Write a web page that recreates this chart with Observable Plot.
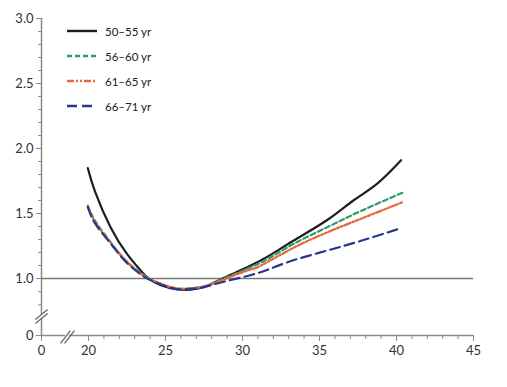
<!DOCTYPE html>
<html><head><meta charset="utf-8">
<script src="https://cdn.jsdelivr.net/npm/d3@7"></script>
<script src="https://cdn.jsdelivr.net/npm/@observablehq/plot@0.6"></script>
<style>
body{margin:0;background:#fff;}
#wrap{position:relative;width:507px;height:387px;font-family:Lato,"Open Sans",sans-serif;}
.item{position:absolute;left:66px;height:14px;display:flex;align-items:center;font-size:11.5px;color:#222;white-space:nowrap;}
.item svg{margin-right:7px;}
</style></head><body><div id="wrap"></div>
<script>
// ---- data ----
const seriesNames = ["50–55 yr", "56–60 yr", "61–65 yr", "66–71 yr"];
const seriesColors = ["#1e1e1e", "#2e9b6b", "#e8653d", "#26388c"];
const seriesDash = [null, "5,3", "7,2,2,2,2,2", "10,5"];

const bmi_5055 = [19.7, 20.45, 21.43, 22.5, 23.4, 23.9, 24.7, 25.7, 26.6, 27.5, 28.6, 30.3, 31.8, 33.3, 35.5, 37.2, 38.75, 40.3];
const rr_5055  = [1.85, 1.66, 1.395, 1.19, 1.06, 1.0, 0.95, 0.92, 0.915, 0.935, 0.995, 1.087, 1.18, 1.29, 1.45, 1.6, 1.73, 1.91];

const bmi_5660 = [19.7, 20.45, 21.43, 22.5, 23.6, 24.0, 24.7, 25.7, 26.6, 27.5, 28.6, 30.3, 31.8, 33.3, 35.5, 37.7, 40.4];
const rr_5660  = [1.56, 1.44, 1.28, 1.13, 1.025, 0.995, 0.96, 0.925, 0.925, 0.94, 0.99, 1.075, 1.16, 1.265, 1.395, 1.52, 1.66];

const bmi_6165 = [19.7, 20.45, 21.43, 22.5, 23.6, 24.0, 24.7, 25.7, 26.6, 27.5, 28.6, 30.3, 31.2, 33.3, 35.5, 37.7, 40.45];
const rr_6165  = [1.55, 1.43, 1.275, 1.125, 1.02, 0.995, 0.96, 0.925, 0.925, 0.94, 0.985, 1.06, 1.10, 1.235, 1.355, 1.46, 1.59];

const bmi_6671 = [19.7, 20.45, 21.43, 22.5, 23.6, 24.0, 24.7, 25.7, 26.6, 27.5, 28.6, 30.5, 31.8, 33.3, 35.5, 37.7, 40.1];
const rr_6671  = [1.55, 1.42, 1.27, 1.12, 1.015, 0.99, 0.955, 0.92, 0.92, 0.935, 0.97, 1.025, 1.075, 1.14, 1.215, 1.29, 1.38];

const xMajorTicks = [0, 20, 25, 30, 35, 40, 45];
const yMajorTicks = [0, 1.0, 1.5, 2.0, 2.5, 3.0];
const refValue = 1.0;

// ---- build ----
const allX = [bmi_5055, bmi_5660, bmi_6165, bmi_6671];
const allY = [rr_5055, rr_5660, rr_6165, rr_6671];
const rows = [];
seriesNames.forEach((s, i) => allX[i].forEach((x, j) => rows.push({series: s, x, y: allY[i][j]})));

const xMinor = d3.range(21, 45).filter(d => d % 5 !== 0);
const yMinor = [0.8, 0.9].concat(d3.range(11, 30).map(d => d / 10).filter(d => d !== 1.5 && d !== 2 && d !== 2.5));

// axis-break decorations (in data units of the broken scales)
const yBreakSlashes = [{x1: -2.6, x2: 2.6, y1: 0.609, y2: 0.766}, {x1: -2.6, x2: 2.6, y1: 0.46, y2: 0.735}];
const xBreakSlashes = [{x1: 8.1, x2: 12.3, y1: -0.30, y2: 0.187}, {x1: 9.8, x2: 14.0, y1: -0.30, y2: 0.187}];

const lineMarks = seriesNames.map((s, i) =>
  Plot.line(rows.filter(r => r.series === s), {
    x: "x", y: "y", curve: "natural",
    stroke: seriesColors[i], strokeWidth: 2.2,
    strokeDasharray: seriesDash[i] || undefined
  })
);

const axisStroke = "#8a8a8a";
const plot = Plot.plot({
  width: 507, height: 387,
  marginLeft: 41, marginRight: 34, marginTop: 18, marginBottom: 52,
  style: {fontFamily: "Lato, 'Open Sans', sans-serif", fontSize: "13px", color: "#333", background: "#fff"},
  x: {type: "linear", domain: [0, 20, 45], range: [41, 88, 473]},
  y: {type: "linear", domain: [0, 0.71, 1, 3], range: [335, 316.3, 278, 18]},
  marks: [
    // axis lines with breaks
    Plot.ruleX([0], {y1: 0, y2: 0.647, stroke: axisStroke, strokeWidth: 1.5}),
    Plot.ruleX([0], {y1: 0.727, y2: 3, stroke: axisStroke, strokeWidth: 1.5}),
    Plot.ruleY([0], {x1: 0, x2: 10.2, stroke: axisStroke, strokeWidth: 1.5}),
    Plot.ruleY([0], {x1: 11.9, x2: 45, stroke: axisStroke, strokeWidth: 1.5}),
    // break marks
    Plot.link(yBreakSlashes, {x1: "x1", x2: "x2", y1: "y1", y2: "y2", stroke: "#666", strokeWidth: 1.3}),
    Plot.link(xBreakSlashes, {x1: "x1", x2: "x2", y1: "y1", y2: "y2", stroke: "#666", strokeWidth: 1.3}),
    // reference line
    Plot.ruleY([refValue], {x1: 0, x2: 45, stroke: "#777", strokeWidth: 1.5}),
    // ticks
    Plot.axisX({ticks: xMajorTicks, tickFormat: d => String(d), tickSize: 6, tickPadding: 4, stroke: axisStroke, fill: "#333", label: null}),
    Plot.axisX({ticks: xMinor, tickFormat: () => "", tickSize: 4, stroke: axisStroke, label: null}),
    Plot.axisY({ticks: yMajorTicks, tickFormat: d => d === 0 ? "0" : d.toFixed(1), tickSize: 5, tickPadding: 3, stroke: axisStroke, fill: "#333", label: null}),
    Plot.axisY({ticks: yMinor, tickFormat: () => "", tickSize: 3, stroke: axisStroke, label: null}),
    ...lineMarks
  ]
});
const wrap = document.getElementById("wrap");
wrap.appendChild(plot);

// legend overlay
seriesNames.forEach((s, i) => {
  const div = document.createElement("div");
  div.className = "item";
  div.style.top = (31 + 25 * i - 7) + "px";
  div.innerHTML = `<svg width="32" height="6"><line x1="1" y1="3" x2="31" y2="3" stroke="${seriesColors[i]}" stroke-width="2.4" ${seriesDash[i] ? `stroke-dasharray="${seriesDash[i]}"` : ""}/></svg><span>${s}</span>`;
  wrap.appendChild(div);
});
</script></body></html>
